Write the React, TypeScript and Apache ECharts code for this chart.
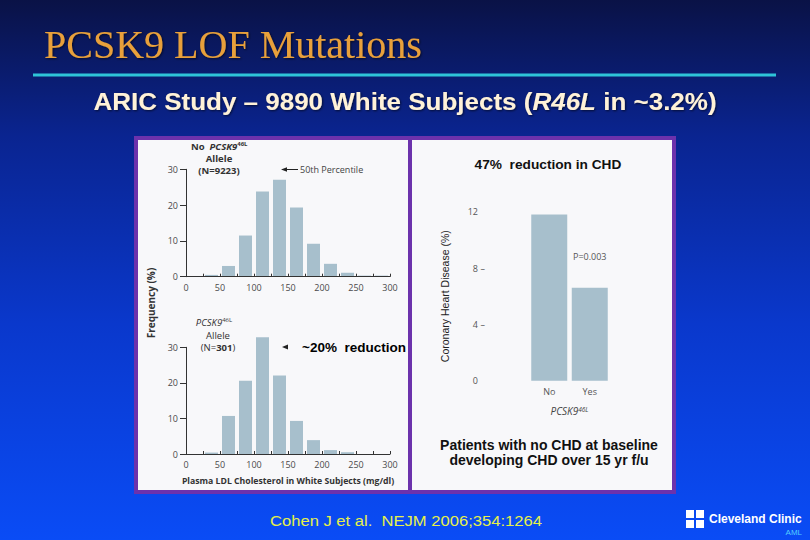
import React, { useEffect, useRef } from 'react';
import * as echarts from 'echarts';

// LDL cholesterol bins (mg/dl, bin centres of 25-wide bins)
const binCenters = [37.5, 62.5, 87.5, 112.5, 137.5, 162.5, 187.5, 212.5, 237.5, 262.5, 287.5];
// Frequency (%) — no PCSK9 46L allele (N=9223)
const noAlleleFreq = [0.5, 3.0, 11.5, 23.8, 27.1, 19.3, 9.2, 3.6, 1.1, 0.3, 0.3];
// Frequency (%) — PCSK9 46L allele (N=301)
const alleleFreq = [0.4, 10.7, 20.6, 32.8, 22.1, 9.3, 3.9, 1.1, 0.5];
// Coronary heart disease (%) by PCSK9 46L status
const chdGroups = ['No', 'Yes'];
const chdRates = [11.8, 6.6];

const BAR = '#a7bfcc';
const AX = '#333333';
const LBL = '#4a4a4a';
const SANS = '"Open Sans", "DejaVu Sans", sans-serif';
const ARIAL = '"Liberation Sans", Arial, sans-serif';

const histX = (gridIndex: number, withName: boolean) => ({
  type: 'value',
  gridIndex,
  min: 0,
  max: 300,
  interval: 25,
  z: 3,
  axisLine: { lineStyle: { color: AX, width: 1 } },
  axisTick: { inside: true, length: 3, lineStyle: { color: AX } },
  splitLine: { show: false },
  axisLabel: {
    margin: 6,
    fontSize: 9,
    color: LBL,
    fontFamily: SANS,
    formatter: (v: number) => (v % 50 === 0 ? String(v) : ''),
  },
  name: withName ? 'Plasma LDL Cholesterol in White Subjects (mg/dl)' : '',
  nameLocation: 'middle',
  nameGap: 22,
  nameTextStyle: { fontSize: 8.7, fontWeight: 'bold', color: '#333', fontFamily: SANS },
});

const histY = (gridIndex: number) => ({
  type: 'value',
  gridIndex,
  min: 0,
  max: 30,
  interval: 10,
  z: 3,
  axisLine: { show: true, lineStyle: { color: AX, width: 1 } },
  axisTick: { show: true, length: 6, lineStyle: { color: AX } },
  splitLine: { show: false },
  axisLabel: { margin: 8, fontSize: 9, color: LBL, fontFamily: SANS },
});

const option: any = {
  animation: false,
  backgroundColor: {
    type: 'linear',
    x: 0, y: 0, x2: 0, y2: 1,
    colorStops: [
      { offset: 0, color: '#0a1246' },
      { offset: 0.25, color: '#0a2490' },
      { offset: 0.6, color: '#0a38cc' },
      { offset: 1, color: '#0a4cf6' },
    ],
  },
  grid: [
    { left: 186, top: 169.3, width: 204, height: 107.4 },
    { left: 186, top: 347.3, width: 204, height: 106.7 },
    { left: 529, top: 211.7, width: 81, height: 169 },
  ],
  xAxis: [
    histX(0, false),
    histX(1, true),
    {
      type: 'category',
      gridIndex: 2,
      data: chdGroups,
      z: 3,
      axisLine: { show: false },
      axisTick: { show: false },
      axisLabel: { margin: 6, fontSize: 9, color: '#555', fontFamily: SANS },
      name: '{i|PCSK9}{s|46L}',
      nameLocation: 'middle',
      nameGap: 25,
      nameTextStyle: {
        rich: {
          i: { fontSize: 10, fontStyle: 'italic', color: '#444', fontFamily: SANS },
          s: { fontSize: 6.5, fontStyle: 'italic', color: '#444', fontFamily: SANS, verticalAlign: 'top' },
        },
      },
    },
  ],
  yAxis: [
    histY(0),
    histY(1),
    {
      type: 'value',
      gridIndex: 2,
      min: 0,
      max: 12,
      interval: 4,
      offset: 44,
      z: 3,
      axisLine: { show: false },
      axisTick: { show: false },
      splitLine: { show: false },
      axisLabel: {
        margin: 0,
        formatter: (v: number) => (v % 12 === 0 ? `{n|${v}}{p|}` : `{n|${v}}{t|–}`),
        rich: {
          n: { fontSize: 9, color: '#555', fontFamily: SANS },
          p: { width: 7 },
          t: { width: 7, align: 'right', fontSize: 9, color: '#555', fontFamily: SANS },
        },
      },
      name: 'Coronary Heart Disease (%)',
      nameLocation: 'middle',
      nameGap: 35,
      nameRotate: 90,
      nameTextStyle: { fontSize: 10.5, color: '#222', fontFamily: ARIAL },
    },
  ],
  series: [
    {
      type: 'bar',
      xAxisIndex: 0,
      yAxisIndex: 0,
      barWidth: 13,
      z: 2,
      clip: false,
      itemStyle: { color: BAR },
      data: binCenters.map((c, i) => [c, noAlleleFreq[i]]),
    },
    {
      type: 'bar',
      xAxisIndex: 1,
      yAxisIndex: 1,
      barWidth: 13,
      z: 2,
      clip: false,
      itemStyle: { color: BAR },
      data: alleleFreq.map((v, i) => [binCenters[i], v]),
    },
    {
      type: 'bar',
      xAxisIndex: 2,
      yAxisIndex: 2,
      barWidth: 36,
      z: 2,
      itemStyle: { color: BAR },
      data: chdRates,
    },
  ],
  graphic: [
    // panels
    { type: 'rect', z: 0, shape: { x: 134, y: 136, width: 542, height: 358 }, style: { fill: '#6c32ac' } },
    { type: 'rect', z: 0, z2: 1, shape: { x: 138, y: 140, width: 270, height: 350 }, style: { fill: '#f8f8fa' } },
    { type: 'rect', z: 0, z2: 1, shape: { x: 412, y: 140, width: 260, height: 350 }, style: { fill: '#f8f8fa' } },
    // title
    {
      type: 'text', z: 5, x: 44, y: 44,
      style: {
        text: 'PCSK9 LOF Mutations', fill: '#e8a03a', fontSize: 40,
        fontFamily: '"Liberation Serif", "Times New Roman", serif', verticalAlign: 'middle',
        textShadowColor: 'rgba(0,0,0,0.6)', textShadowBlur: 2, textShadowOffsetX: 1, textShadowOffsetY: 1,
      },
    },
    { type: 'line', z: 5, shape: { x1: 33, y1: 75, x2: 776, y2: 75 }, style: { stroke: '#2ec4d8', lineWidth: 3 } },
    {
      type: 'text', z: 5, x: 405, y: 102, scaleX: 1.13,
      style: {
        text: '{a|ARIC Study – 9890 White Subjects (}{b|R46L}{a| in ~3.2%)}',
        align: 'center', verticalAlign: 'middle',
        rich: {
          a: { fontSize: 23, fontWeight: 'bold', fill: '#fff2d8', fontFamily: ARIAL },
          b: { fontSize: 23, fontWeight: 'bold', fontStyle: 'italic', fill: '#fff2d8', fontFamily: ARIAL },
        },
        textShadowColor: 'rgba(0,0,0,0.6)', textShadowBlur: 2, textShadowOffsetX: 1, textShadowOffsetY: 1,
      },
    },
    // left panel annotations
    {
      type: 'text', z: 5, x: 191, y: 146,
      style: {
        text: '{a|No  }{b|PCSK9}{c|46L}', verticalAlign: 'middle',
        rich: {
          a: { fontSize: 9.5, lineHeight: 11, fontWeight: 'bold', fill: '#333', fontFamily: SANS },
          b: { fontSize: 9.5, lineHeight: 11, fontWeight: 'bold', fontStyle: 'italic', fill: '#333', fontFamily: SANS },
          c: { fontSize: 6, lineHeight: 7, fontWeight: 'bold', fill: '#333', fontFamily: SANS, verticalAlign: 'top' },
        },
      },
    },
    { type: 'text', z: 5, x: 219, y: 158, style: { text: 'Allele', align: 'center', verticalAlign: 'middle', fontSize: 9.5, lineHeight: 11, fontWeight: 'bold', fill: '#333', fontFamily: SANS } },
    { type: 'text', z: 5, x: 219, y: 170, style: { text: '(N=9223)', align: 'center', verticalAlign: 'middle', fontSize: 9.5, lineHeight: 11, fontWeight: 'bold', fill: '#333', fontFamily: SANS } },
    { type: 'line', z: 5, shape: { x1: 285, y1: 169.5, x2: 298, y2: 169.5 }, style: { stroke: '#222', lineWidth: 1 } },
    { type: 'polygon', z: 5, shape: { points: [[281, 169.5], [287, 167.2], [287, 171.8]] }, style: { fill: '#222' } },
    { type: 'text', z: 5, x: 300, y: 169.5, style: { text: '50th Percentile', verticalAlign: 'middle', fontSize: 9, fill: '#444', fontFamily: SANS } },
    {
      type: 'text', z: 5, x: 151, y: 303, rotation: Math.PI / 2,
      style: { text: 'Frequency (%)', align: 'center', verticalAlign: 'middle', fontSize: 10, fontWeight: 'bold', fill: '#333', fontFamily: SANS },
    },
    {
      type: 'text', z: 5, x: 214, y: 322,
      style: {
        text: '{b|PCSK9}{c|46L}', align: 'center', verticalAlign: 'middle',
        rich: {
          b: { fontSize: 9.5, lineHeight: 11, fontStyle: 'italic', fill: '#333', fontFamily: SANS },
          c: { fontSize: 6, lineHeight: 7, fill: '#333', fontFamily: SANS, verticalAlign: 'top' },
        },
      },
    },
    { type: 'text', z: 5, x: 218, y: 335, style: { text: 'Allele', align: 'center', verticalAlign: 'middle', fontSize: 9.5, lineHeight: 11, fill: '#333', fontFamily: SANS } },
    {
      type: 'text', z: 5, x: 218, y: 347,
      style: {
        text: '{a|(N=}{b|301}{a|)}', align: 'center', verticalAlign: 'middle',
        rich: {
          a: { fontSize: 9.5, lineHeight: 11, fill: '#333', fontFamily: SANS },
          b: { fontSize: 9.5, lineHeight: 11, fontWeight: 'bold', fill: '#333', fontFamily: SANS },
        },
      },
    },
    { type: 'polygon', z: 5, shape: { points: [[282, 347], [288, 344.6], [288, 349.4]] }, style: { fill: '#222' } },
    { type: 'text', z: 5, x: 302, y: 347, style: { text: '~20%  reduction', verticalAlign: 'middle', fontSize: 13.5, fontWeight: 'bold', fill: '#000', fontFamily: ARIAL } },
    // right panel annotations
    { type: 'text', z: 5, x: 548, y: 164, style: { text: '47%  reduction in CHD', align: 'center', verticalAlign: 'middle', fontSize: 13.7, fontWeight: 'bold', fill: '#111', fontFamily: ARIAL } },
    { type: 'text', z: 5, x: 573, y: 256, style: { text: 'P=0.003', verticalAlign: 'middle', fontSize: 9, fill: '#555', fontFamily: SANS } },
    { type: 'text', z: 5, x: 549, y: 445, style: { text: 'Patients with no CHD at baseline', align: 'center', verticalAlign: 'middle', fontSize: 14, fontWeight: 'bold', fill: '#111', fontFamily: ARIAL } },
    { type: 'text', z: 5, x: 549, y: 460, style: { text: 'developing CHD over 15 yr f/u', align: 'center', verticalAlign: 'middle', fontSize: 14, fontWeight: 'bold', fill: '#111', fontFamily: ARIAL } },
    // footer
    { type: 'text', z: 5, x: 270, y: 520, scaleX: 1.07, style: { text: 'Cohen J et al.  NEJM 2006;354:1264', verticalAlign: 'middle', fontSize: 15.5, fill: '#e6f04a', fontFamily: ARIAL } },
    { type: 'rect', z: 5, shape: { x: 686, y: 510, width: 8, height: 8 }, style: { fill: '#ffffff' } },
    { type: 'rect', z: 5, shape: { x: 696, y: 510, width: 8, height: 8 }, style: { fill: '#ffffff' } },
    { type: 'rect', z: 5, shape: { x: 686, y: 520, width: 8, height: 8 }, style: { fill: '#ffffff' } },
    { type: 'rect', z: 5, shape: { x: 696, y: 520, width: 8, height: 8 }, style: { fill: '#ffffff' } },
    { type: 'text', z: 5, x: 709, y: 519, style: { text: 'Cleveland Clinic', verticalAlign: 'middle', fontSize: 12, fontWeight: 'bold', fill: '#ffffff', fontFamily: ARIAL } },
    { type: 'text', z: 5, x: 802, y: 532, style: { text: 'AML', align: 'right', verticalAlign: 'middle', fontSize: 8, fill: '#55ccff', fontFamily: ARIAL } },
  ],
};

export default function App() {
  const ref = useRef<HTMLDivElement>(null);
  useEffect(() => {
    const chart = echarts.init(ref.current!, undefined, { renderer: 'svg' });
    chart.setOption(option);
    return () => chart.dispose();
  }, []);
  return <div ref={ref} style={{ position: 'fixed', left: 0, top: 0, width: 810, height: 540 }} />;
}
